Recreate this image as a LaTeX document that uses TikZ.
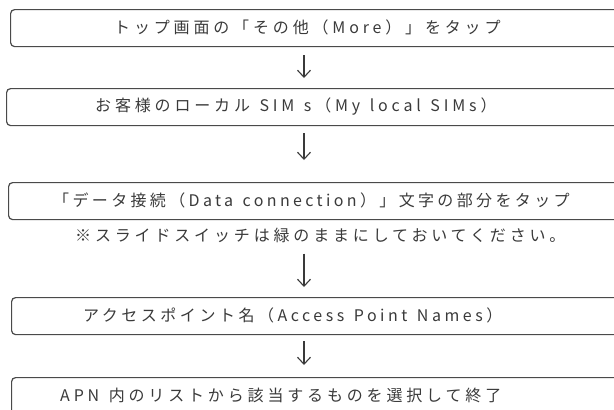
\documentclass[tikz,border=0pt]{standalone}
\usepackage{fontspec}
\setmainfont{Noto Sans CJK JP}[LetterSpace=24]
\usetikzlibrary{arrows.meta}
\definecolor{ink}{HTML}{3A3A3A}
\definecolor{edge}{HTML}{4A4A4A}
\newcommand\stepfont{\fontsize{16pt}{19pt}\selectfont\spaceskip=9.5pt\relax}
\newcommand\tighter[1]{\addfontfeature{LetterSpace=#1}\spaceskip=9.5pt\relax}
\tikzset{
  stepbox/.style={draw=edge, line width=1.2pt, rounded corners=4pt, minimum width=640pt, minimum height=37pt, anchor=north west, inner sep=0pt},
  steptext/.style={text=ink, font=\stepfont, anchor=west, inner sep=0pt},
  flow/.style={draw=ink, line width=1.1pt, -{Straight Barb[length=7pt,width=13pt,line width=1.1pt]}}
}
\begin{document}
\begin{tikzpicture}[x=1pt,y=-1pt]
\useasboundingbox (0,0) rectangle (614,410);
\clip (0,0) rectangle (614,410);
\node[stepbox] (b1) at (10,9) {};
\node[stepbox] (b2) at (6,88) {};
\node[stepbox] (b3) at (8,182) {};
\node[stepbox, minimum height=50pt] (b5) at (11,377) {};
\node[stepbox] (b4) at (11,297) {};
\node[steptext] (t1) at (114,27.5) {トップ画面の「その他（More）」をタップ};
\node[steptext] (t2) at (95,107) {お客様のローカル SIM s（My local SIMs）};
\node[steptext] (t3) at (53,200.5) {\tighter{21}「データ接続（Data connection）」文字の部分をタップ};
\node[steptext] (note) at (75,235) {※スライドスイッチは緑のままにしておいてください。};
\node[steptext] (t4) at (83,315.5) {\tighter{22}アクセスポイント名（Access Point Names）};
\node[steptext] (t5) at (60,395) {APN 内のリストから該当するものを選択して終了};
\coordinate (ax) at (304,0);
\draw[flow, shorten <=8pt, shorten >=10pt] (b1.south -| ax) -- (b2.north -| ax);
\draw[flow, shorten <=7pt, shorten >=22pt] (b2.south -| ax) -- (b3.north -| ax);
\draw[flow, shorten <=11pt, shorten >=10pt] (note.south -| ax) -- (b4.north -| ax);
\draw[flow, shorten <=6pt, shorten >=12pt] (b4.south -| ax) -- (b5.north -| ax);
\end{tikzpicture}
\end{document}
